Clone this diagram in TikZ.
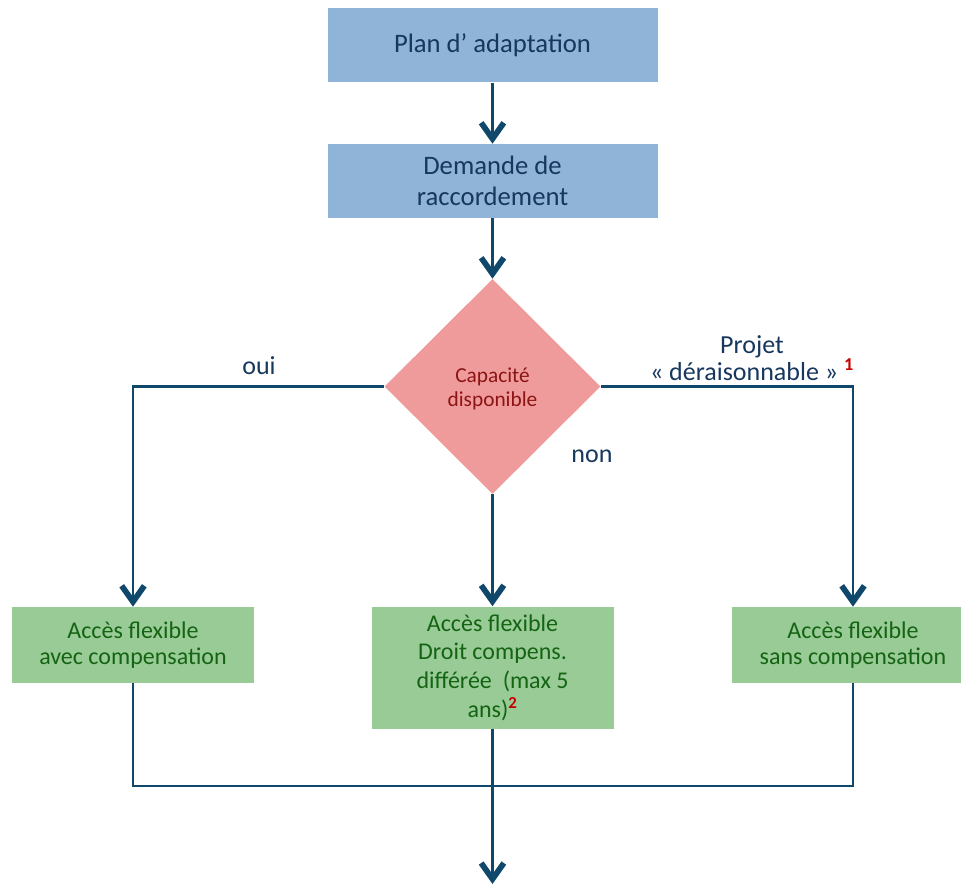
\documentclass[tikz,border=0pt]{standalone}
\usepackage{fontspec}
\setmainfont{Carlito}
\usetikzlibrary{arrows.meta,shapes.geometric}

\definecolor{boxblue}{RGB}{143,180,216}
\definecolor{navytext}{RGB}{23,55,94}
\definecolor{linkblue}{RGB}{16,72,108}
\definecolor{diampink}{RGB}{240,155,155}
\definecolor{diamtext}{RGB}{140,20,20}
\definecolor{boxgreen}{RGB}{152,203,149}
\definecolor{greentext}{RGB}{20,100,20}
\definecolor{notered}{RGB}{200,0,0}

\newcommand{\noteref}[1]{\textsuperscript{\color{notered}\bfseries #1}}

\begin{document}
\begin{tikzpicture}[x=0.75pt,y=0.75pt,yscale=-1,xscale=1,
  chevron/.tip={Straight Barb[length=12pt,width=17pt,line width=4.3pt]},
  bluebox/.style={fill=boxblue,text=navytext,align=center,inner sep=0.75pt,
    minimum width=247.5pt,minimum height=55.5pt,font=\fontsize{20}{23}\selectfont},
  decision/.style={diamond,fill=diampink,text=diamtext,align=center,inner sep=0pt,
    minimum width=162pt,minimum height=161.25pt,font=\fontsize{16}{18}\selectfont},
  greenbox/.style={fill=boxgreen,text=greentext,align=center,inner sep=0.75pt,
    minimum width=181.5pt,minimum height=57pt,font=\fontsize{18}{19.5}\selectfont},
  line/.style={draw=linkblue,line width=1.6pt},
  link/.style={line,-chevron},
  branchtext/.style={text=navytext,align=center,inner sep=0.75pt,font=\fontsize{19.5}{20}\selectfont}]
\useasboundingbox (0,0) rectangle (961,888);

%Shape: Rectangle
\node[bluebox] (plan) at (492.5,45.5) {Plan d’ adaptation};
%Shape: Rectangle
\node[bluebox] (demande) at (492.5,181) {Demande de\\raccordement};
%Shape: Diamond
\node[decision] (capacite) at (492.5,386.5) {\rule{0pt}{15pt}Capacité\\disponible};

%Shape: Rectangle
\node[greenbox] (avec) at (133,645) {Accès flexible\\avec compensation};
%Shape: Rectangle
\node[greenbox,minimum height=91.5pt,font=\fontsize{18}{21.5}\selectfont] (differe) at (492.5,667.5)
  {Accès flexible\\Droit compens.\\différée~~(max 5\\ans)\noteref{2}};
%Shape: Rectangle
\node[greenbox] (sans) at (853,645) {Accès flexible\\sans compensation};

\coordinate (joint) at (492.5,786);
\coordinate (sortie) at (492.5,884);

%Straight Lines
\draw[link] (plan) -- (demande);
\draw[link] (demande) -- (capacite);
\draw[link] (capacite.west) -| (avec.north);
\draw[link] (capacite.south) -- (differe.north);
\draw[link] (capacite.east) -| (sans.north);
\draw[line] (avec.south) |- (joint) -| (sans.south);
\draw[link] (differe.south) -- (sortie);

% Text Node
\node[branchtext] (oui) at (259,366) {oui};
% Text Node
\node[branchtext] (non) at (592,456) {non};
% Text Node
\node[branchtext,font=\fontsize{19.5}{19}\selectfont] (projet) at (752,358)
  {Projet\\« déraisonnable » \noteref{1}};

\end{tikzpicture}
\end{document}
